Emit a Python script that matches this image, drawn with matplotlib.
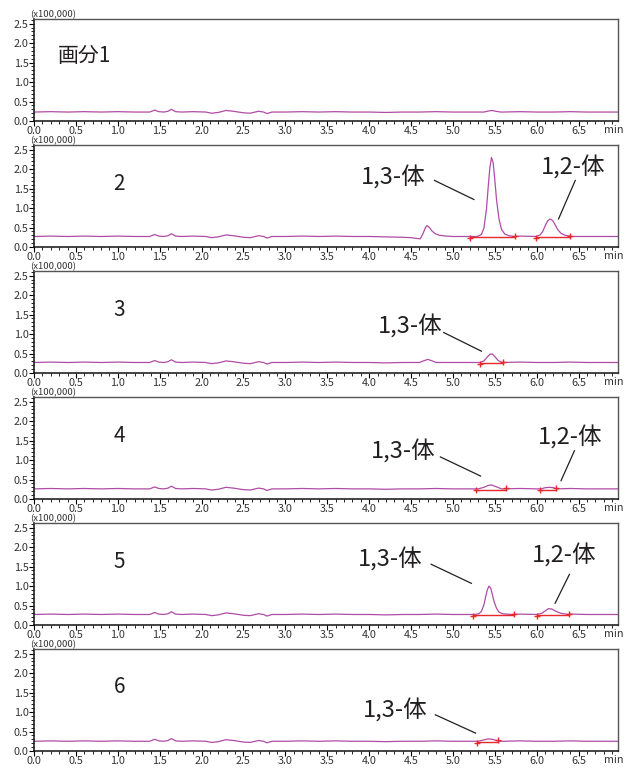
import numpy as np
import matplotlib
matplotlib.use("Agg")
import matplotlib.pyplot as plt
from matplotlib.ticker import MultipleLocator

plt.rcParams['font.family'] = ['Noto Sans CJK JP', 'DejaVu Sans']

# shared baseline wiggle (offset from each panel's baseline level, x100,000)
base_t = [0.0, 0.2, 0.4, 0.6, 0.8, 1.0, 1.2, 1.38, 1.44, 1.49, 1.55, 1.60, 1.64, 1.69,
          1.76, 1.9, 2.05, 2.12, 2.2, 2.29, 2.38, 2.5, 2.58, 2.68, 2.74, 2.78, 2.84,
          3.0, 3.2, 3.4, 3.6, 3.8, 4.0, 4.2, 4.4, 4.6, 4.8, 5.0, 5.2, 5.4, 5.6, 5.8,
          6.0, 6.2, 6.4, 6.6, 6.8, 7.0]
base_v = [0.00, 0.01, 0.00, 0.01, 0.00, 0.01, 0.00, 0.00, 0.05, 0.01, 0.00, 0.02, 0.07, 0.01,
          0.00, 0.01, 0.00, -0.03, -0.01, 0.04, 0.02, -0.02, -0.03, 0.02, 0.00, -0.04, 0.00,
          0.00, 0.01, 0.00, 0.01, 0.00, 0.00, -0.01, 0.00, 0.00, 0.01, 0.00, 0.00, 0.00, 0.00, 0.01,
          0.00, 0.00, 0.01, 0.00, 0.00, 0.00]

panel_labels = ["画分1", "2", "3", "4", "5", "6"]
levels = [0.23, 0.27, 0.27, 0.26, 0.27, 0.25]

# peak segments per panel: (times, excess intensity over baseline)
peaks = [
    [([5.37, 5.43, 5.47, 5.51, 5.57], [0.0, 0.03, 0.04, 0.02, 0.0])],
    [([4.40, 4.50, 4.57, 4.61, 4.64, 4.67, 4.69, 4.72, 4.75, 4.79, 4.84, 4.92, 5.00],
      [-0.02, -0.03, -0.05, -0.06, 0.06, 0.22, 0.28, 0.23, 0.14, 0.07, 0.03, 0.01, 0.0]),
     ([5.29, 5.34, 5.37, 5.40, 5.42, 5.44, 5.46, 5.48, 5.50, 5.52, 5.55, 5.58, 5.62, 5.67, 5.73],
      [0.0, 0.05, 0.22, 0.70, 1.25, 1.75, 2.03, 1.90, 1.45, 0.95, 0.45, 0.18, 0.06, 0.02, 0.0]),
     ([5.99, 6.04, 6.07, 6.10, 6.13, 6.16, 6.19, 6.22, 6.25, 6.29, 6.34, 6.41],
      [0.0, 0.04, 0.12, 0.27, 0.40, 0.45, 0.41, 0.30, 0.18, 0.08, 0.03, 0.0])],
    [([4.60, 4.66, 4.70, 4.74, 4.80],
      [0.0, 0.05, 0.08, 0.05, 0.0]),
     ([5.32, 5.37, 5.41, 5.44, 5.47, 5.50, 5.54, 5.59],
      [0.0, 0.04, 0.14, 0.21, 0.22, 0.15, 0.05, 0.0])],
    [([5.30, 5.37, 5.42, 5.46, 5.51, 5.58],
      [0.0, 0.04, 0.09, 0.10, 0.06, 0.0]),
     ([6.05, 6.10, 6.15, 6.20, 6.24],
      [0.0, 0.03, 0.04, 0.03, 0.0])],
    [([5.26, 5.31, 5.34, 5.37, 5.39, 5.41, 5.43, 5.45, 5.47, 5.49, 5.52, 5.55, 5.59, 5.64, 5.70],
      [0.0, 0.02, 0.08, 0.25, 0.45, 0.63, 0.73, 0.68, 0.52, 0.34, 0.16, 0.06, 0.02, 0.01, 0.0]),
     ([6.00, 6.06, 6.10, 6.14, 6.18, 6.23, 6.29, 6.38],
      [0.0, 0.03, 0.09, 0.15, 0.14, 0.08, 0.03, 0.0])],
    [([5.30, 5.36, 5.42, 5.47, 5.52, 5.56],
      [0.0, 0.03, 0.06, 0.05, 0.02, 0.0])],
]

# integration baselines (start, end)
integrations = [
    [],
    [(5.20, 5.74), (5.99, 6.40)],
    [(5.32, 5.60)],
    [(5.28, 5.63), (6.04, 6.23)],
    [(5.24, 5.73), (6.00, 6.38)],
    [(5.29, 5.54)],
]

# annotations: (text, text x, text y, line start, line end)
annotations = [
    [],
    [("1,3-体", 4.29, 1.79, (4.78, 1.71), (5.25, 1.22)),
     ("1,2-体", 6.43, 2.03, (6.46, 1.71), (6.26, 0.72))],
    [("1,3-体", 4.49, 1.19, (4.89, 1.04), (5.34, 0.56))],
    [("1,3-体", 4.41, 1.23, (4.85, 1.08), (5.33, 0.59)),
     ("1,2-体", 6.40, 1.58, (6.45, 1.24), (6.29, 0.47))],
    [("1,3-体", 4.25, 1.69, (4.74, 1.56), (5.22, 1.07)),
     ("1,2-体", 6.33, 1.77, (6.39, 1.30), (6.22, 0.56))],
    [("1,3-体", 4.31, 1.04, (4.79, 0.93), (5.27, 0.46))],
]

label_pos = [(0.29, 1.66), (0.94, 1.63), (0.95, 1.63), (0.95, 1.63), (0.95, 1.63), (0.95, 1.64)]

trace_color = '#b04ca6'
W, H = 630, 772
fig = plt.figure(figsize=(W / 100, H / 100), dpi=100)

tops = [19, 145, 271, 397, 523, 649]
ph = 102
left, right = 34, 618

for i in range(6):
    ax = fig.add_axes([left / W, 1 - (tops[i] + ph) / H, (right - left) / W, ph / H])
    t_all = list(base_t)
    v_all = list(np.array(base_v) + levels[i])
    for pt, pv in peaks[i]:
        keep = [(t, v) for t, v in zip(t_all, v_all) if t < pt[0] or t > pt[-1]]
        keep += [(t, levels[i] + v) for t, v in zip(pt, pv)]
        keep.sort()
        t_all = [k[0] for k in keep]
        v_all = [k[1] for k in keep]
    ax.plot(t_all, v_all, color=trace_color, lw=0.9)

    for s, e in integrations[i]:
        y0 = levels[i] - 0.02
        ax.plot([s, e], [y0, y0], color='#e8282a', lw=1.0)
        ax.plot([s], [y0 - 0.02], marker='+', color='#e8282a', ms=5, mew=1.0)
        ax.plot([e], [y0 + 0.04], marker='+', color='#e8282a', ms=5, mew=1.0)

    for txt, tx, ty, p0, p1 in annotations[i]:
        ax.text(tx, ty, txt, fontsize=17, ha='center', va='center', color='#231f20')
        ax.plot([p0[0], p1[0]], [p0[1], p1[1]], color='#231f20', lw=0.9)

    lx, ly = label_pos[i]
    ax.text(lx, ly, panel_labels[i], fontsize=15, ha='left', va='center', color='#231f20')

    ax.set_xlim(0, 6.97)
    ax.set_ylim(0, 2.62)
    ax.xaxis.set_minor_locator(MultipleLocator(0.1))
    ax.yaxis.set_minor_locator(MultipleLocator(0.1))
    ax.set_xticks(np.arange(0, 6.51, 0.5))
    ax.set_xticklabels(['%.1f' % v for v in np.arange(0, 6.51, 0.5)])
    ax.set_yticks(np.arange(0, 2.51, 0.5))
    ax.set_yticklabels(['%.1f' % v for v in np.arange(0, 2.51, 0.5)])
    ax.tick_params(axis='both', which='major', length=3.5, width=0.8, labelsize=7.8,
                   labelcolor='#333333', pad=0.2, direction='out')
    ax.tick_params(axis='both', which='minor', length=2, width=0.6, direction='out')
    for side in ['left', 'bottom']:
        ax.spines[side].set_color('#111111')
        ax.spines[side].set_linewidth(1.1)
    for side in ['top', 'right']:
        ax.spines[side].set_color('#555555')
        ax.spines[side].set_linewidth(1.0)
    ax.text(-0.006, 1.002, '(x100,000)', transform=ax.transAxes, fontsize=6.8,
            color='#333333', ha='left', va='bottom')
    ax.text(0.993, -0.04, 'min', transform=ax.transAxes, fontsize=7.8,
            color='#333333', ha='center', va='top')

fig.savefig('out.png', dpi=100)
